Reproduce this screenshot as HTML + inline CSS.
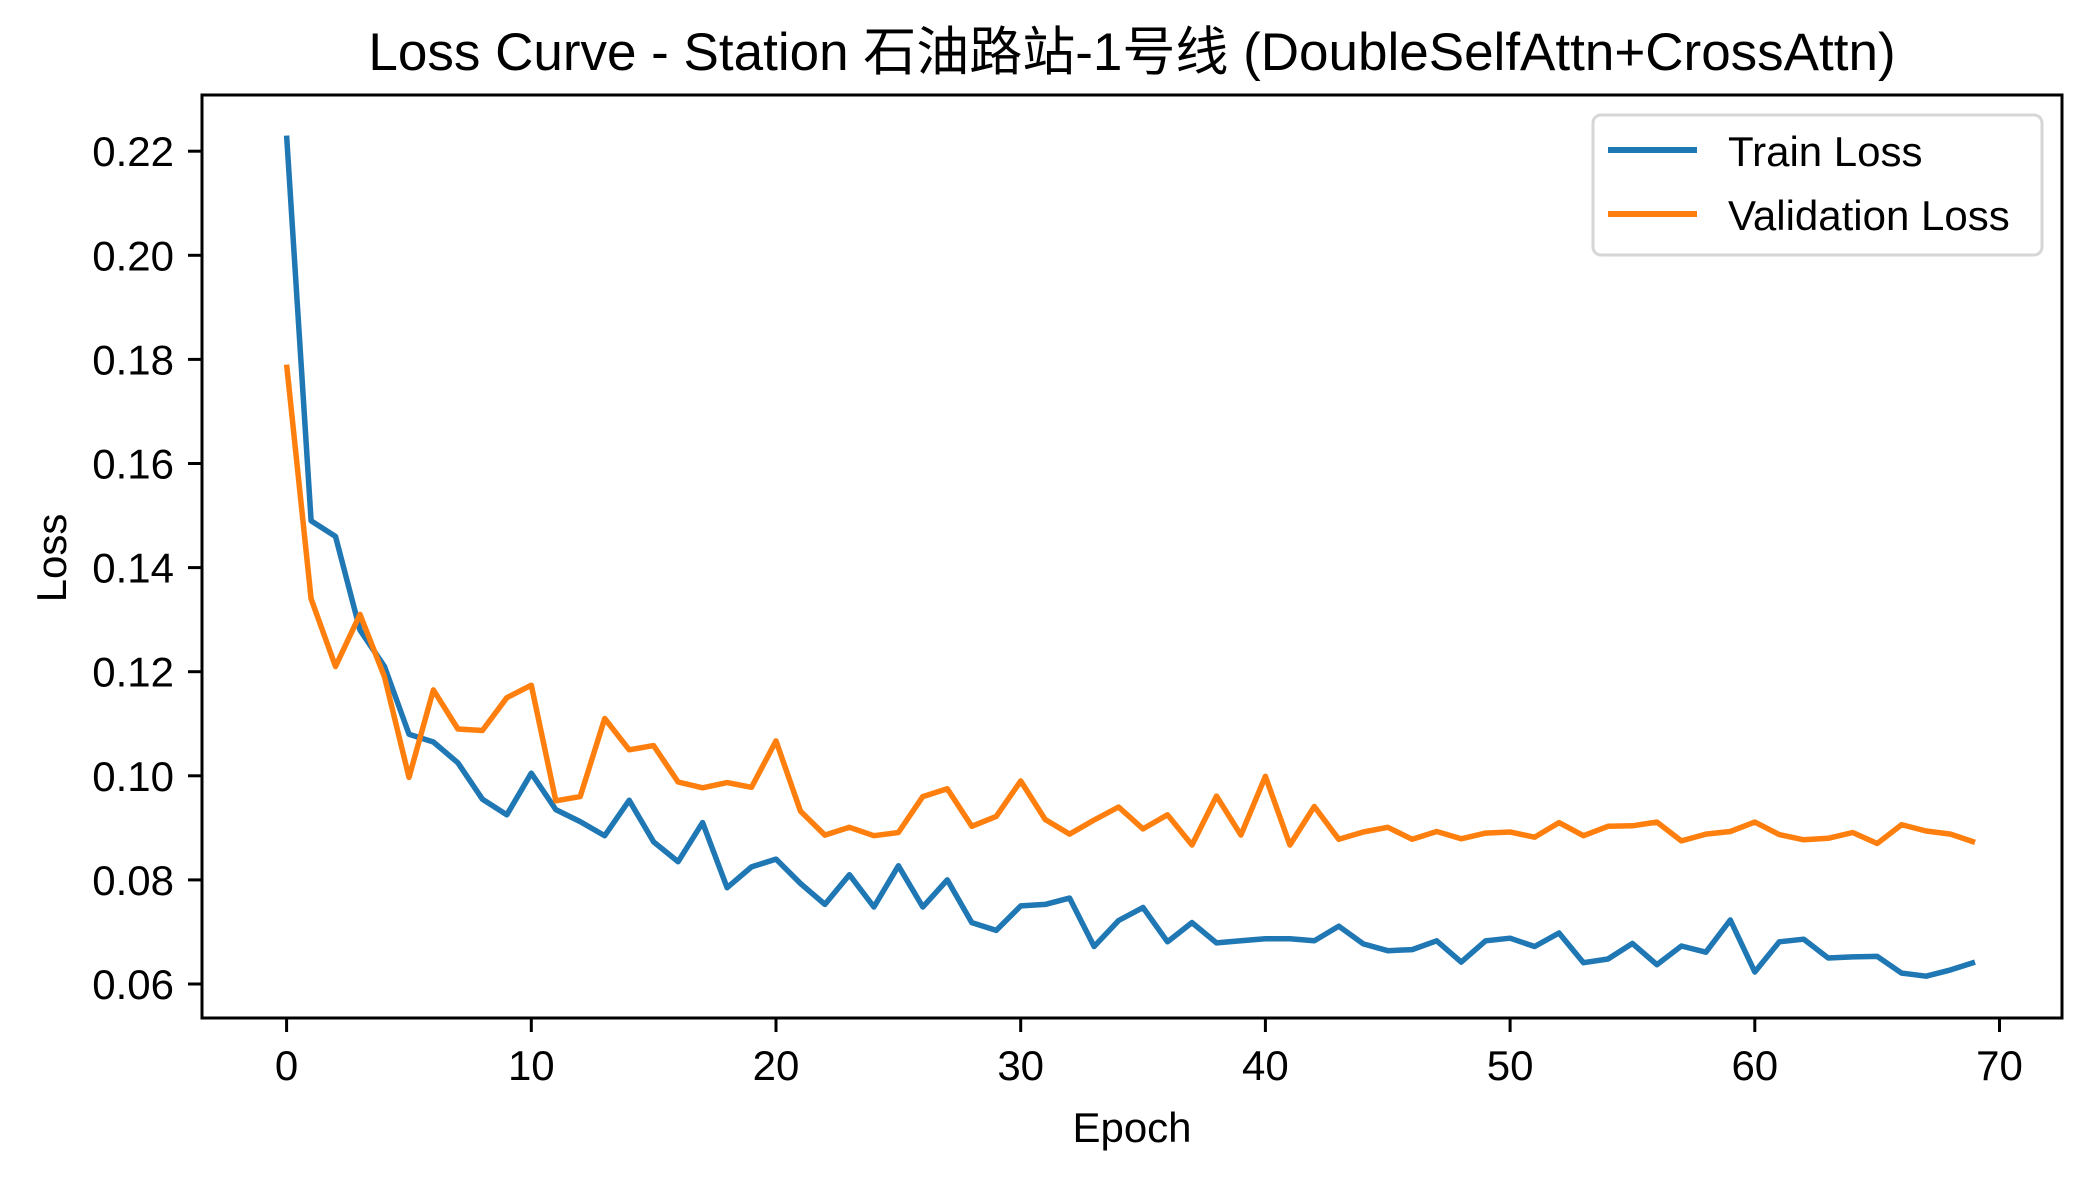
<!DOCTYPE html>
<html><head><meta charset="utf-8"><style>
html,body{margin:0;padding:0;background:#fff;}
svg text{font-family:"Liberation Sans","Noto Sans CJK SC",sans-serif;fill:#000;}
</style></head><body>
<svg id="chart" width="2092" height="1180" xmlns="http://www.w3.org/2000/svg">
<rect width="2092" height="1180" fill="#fff"/>
<text x="1132" y="70" font-size="53" text-anchor="middle">Loss Curve - Station 石油路站-1号线 (DoubleSelfAttn+CrossAttn)</text>
<g id="ticks"></g>
<g id="lines"></g>
<rect x="202" y="95" width="1860" height="923" fill="none" stroke="#000" stroke-width="3"/>
<text x="1132" y="1142" font-size="42" text-anchor="middle">Epoch</text>
<text x="0" y="0" font-size="42" text-anchor="middle" transform="translate(66,558) rotate(-90)">Loss</text>
<g>
<rect x="1593" y="115" width="449" height="140" rx="8" fill="#fff" stroke="#d6d6d6" stroke-width="3"/>
<line x1="1608" y1="150" x2="1697" y2="150" stroke="#1f77b4" stroke-width="6"/>
<text x="1728" y="166" font-size="42">Train Loss</text>
<line x1="1608" y1="214" x2="1697" y2="214" stroke="#ff7f0e" stroke-width="6"/>
<text x="1728" y="230" font-size="42">Validation Loss</text>
</g>
</svg>
<script>
const trainLoss=[0.223,0.149,0.146,0.128,0.121,0.108,0.1065,0.1025,0.0955,0.0925,0.1005,0.0935,0.0912,0.0885,0.0953,0.0873,0.0835,0.091,0.0785,0.0825,0.084,0.0793,0.0753,0.081,0.0748,0.0827,0.0748,0.080,0.0718,0.0703,0.075,0.0753,0.0765,0.0672,0.0722,0.0747,0.0681,0.0718,0.0679,0.0683,0.0687,0.0687,0.0683,0.0711,0.0677,0.0664,0.0666,0.0683,0.0642,0.0683,0.0688,0.0672,0.0698,0.0641,0.0648,0.0678,0.0637,0.0673,0.0661,0.0723,0.0623,0.0681,0.0686,0.065,0.0652,0.0653,0.0621,0.0615,0.0627,0.0642];
const valLoss=[0.179,0.134,0.121,0.131,0.119,0.0997,0.1165,0.109,0.1087,0.115,0.1174,0.0952,0.096,0.111,0.105,0.1058,0.0988,0.0977,0.0987,0.0978,0.1067,0.0932,0.0886,0.0901,0.0885,0.0891,0.096,0.0975,0.0903,0.0922,0.099,0.0916,0.0888,0.0915,0.094,0.0898,0.0925,0.0867,0.0961,0.0886,0.0999,0.0867,0.0941,0.0878,0.0892,0.0901,0.0878,0.0893,0.0879,0.089,0.0892,0.0882,0.091,0.0885,0.0903,0.0904,0.0911,0.0875,0.0888,0.0893,0.0911,0.0887,0.0877,0.088,0.0891,0.087,0.0906,0.0894,0.0888,0.0872];
const xTicks=[0,10,20,30,40,50,60,70];
const yTicks=[0.06,0.08,0.10,0.12,0.14,0.16,0.18,0.20,0.22];
const yTickLabels=["0.06","0.08","0.10","0.12","0.14","0.16","0.18","0.20","0.22"];
const NS="http://www.w3.org/2000/svg";
function xs(v){return 286.6+v*24.47;}
function ys(v){return 984-(v-0.06)*5205;}
const tg=document.getElementById('ticks');
xTicks.forEach(t=>{
  const l=document.createElementNS(NS,'line');
  
  
  l.setAttribute('x1',xs(t));l.setAttribute('x2',xs(t));l.setAttribute('y1',1018);l.setAttribute('y2',1032);
  l.setAttribute('stroke','#000');l.setAttribute('stroke-width','3');tg.appendChild(l);
  const tx=document.createElementNS(NS,'text');
  
  
  tx.setAttribute('x',xs(t));tx.setAttribute('y',1080);tx.setAttribute('font-size','42');tx.setAttribute('text-anchor','middle');
  tx.textContent=t;tg.appendChild(tx);
});
yTicks.forEach((t,i)=>{
  const l=document.createElementNS(NS,'line');
  
  
  l.setAttribute('x1',188);l.setAttribute('x2',202);l.setAttribute('y1',ys(t));l.setAttribute('y2',ys(t));
  l.setAttribute('stroke','#000');l.setAttribute('stroke-width','3');tg.appendChild(l);
  const tx=document.createElementNS(NS,'text');
  
  
  tx.setAttribute('x',174);tx.setAttribute('y',ys(t)+15);tx.setAttribute('font-size','42');tx.setAttribute('text-anchor','end');
  tx.textContent=yTickLabels[i];tg.appendChild(tx);
});
const lg=document.getElementById('lines');
function drawLine(arr,color,name){
  const p=document.createElementNS(NS,'polyline');
  
  
  p.setAttribute('points',arr.map((v,i)=>xs(i).toFixed(1)+','+ys(v).toFixed(1)).join(' '));
  p.setAttribute('fill','none');p.setAttribute('stroke',color);p.setAttribute('stroke-width','5.5');
  p.setAttribute('stroke-linejoin','round');
  lg.appendChild(p);
}
drawLine(trainLoss,'#1f77b4','train-loss-line');
drawLine(valLoss,'#ff7f0e','validation-loss-line');
</script>
</body></html>
